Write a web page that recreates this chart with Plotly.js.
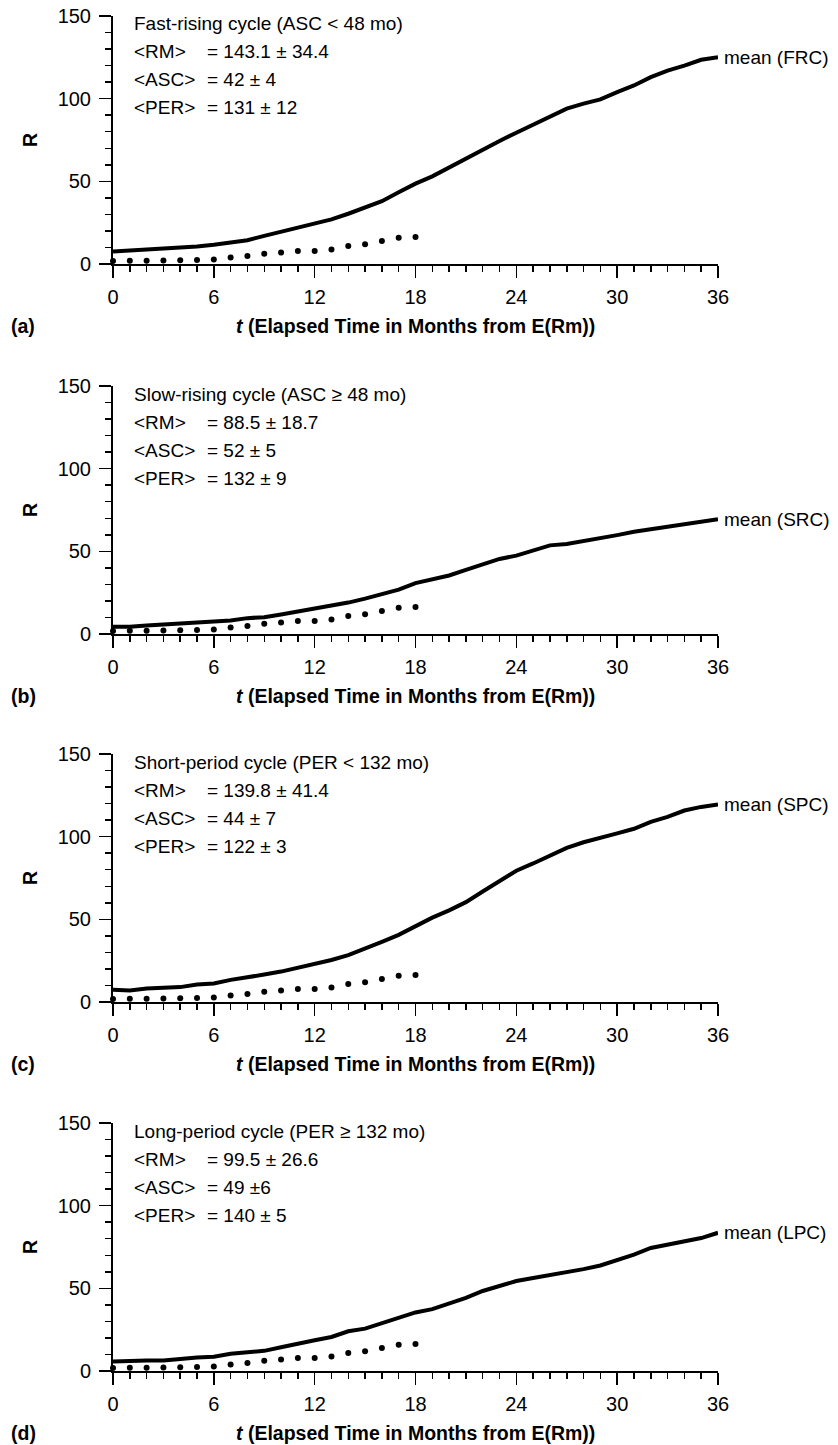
<!DOCTYPE html>
<html>
<head>
<meta charset="utf-8">
<script src="https://cdn.plot.ly/plotly-3.0.1.min.js"></script>
<style>
html, body { margin: 0; padding: 0; background: #fff; }
#chart { width: 838px; height: 1445px; }
</style>
</head>
<body>
<div id="chart"></div>
<script>
// ---- data ----
const months = [0,1,2,3,4,5,6,7,8,9,10,11,12,13,14,15,16,17,18,19,20,21,22,23,24,25,26,27,28,29,30,31,32,33,34,35,36];
const dotMonths = [0,1,2,3,4,5,6,7,8,9,10,11,12,13,14,15,16,17,18];
const dotR = [1.8,2.0,2.0,2.1,2.2,2.4,2.7,3.9,4.8,6.2,6.9,7.8,7.9,8.8,10.9,11.9,13.9,15.9,16.3];

const meanFRC = [7.6,8.2,8.8,9.0,9.8,10.6,11.6,12.8,14.4,17.0,19.6,22.2,24.4,27.0,30.4,34.4,38.0,43.4,48.6,53.0,58.4,64.0,69.0,74.4,79.4,84.4,89.0,94.0,97.0,99.6,104.0,108.0,113.0,117.0,120.0,123.5,125.0];
const meanSRC = [4.4,4.4,5.2,5.8,6.0,6.4,7.6,8.2,9.6,10.2,11.8,13.6,15.2,17.0,19.0,21.4,24.0,26.8,30.8,33.0,35.4,38.8,42.0,45.4,47.4,50.4,53.6,54.4,56.0,58.2,59.8,61.8,63.4,64.8,66.4,67.8,69.4];
const meanSPC = [7.4,7.0,8.2,8.8,9.0,10.6,11.2,13.4,14.8,16.6,18.4,20.6,22.6,25.4,28.4,32.2,36.4,40.6,45.8,51.0,55.4,60.4,66.8,73.0,79.4,83.8,88.8,93.2,96.6,99.0,102.0,104.8,109.0,112.0,115.8,118.0,119.4];
const meanLPC = [5.8,6.4,6.4,6.4,7.4,8.2,8.6,10.4,11.4,12.2,14.4,16.2,18.6,20.6,24.0,25.6,28.8,32.0,35.4,37.4,40.6,44.2,48.4,51.6,54.4,56.2,57.8,59.6,61.6,63.8,67.0,70.4,74.4,76.2,78.2,80.4,83.6];

const seriesList = [meanFRC, meanSRC, meanSPC, meanLPC];
const seriesNames = ['mean (FRC)', 'mean (SRC)', 'mean (SPC)', 'mean (LPC)'];
const panelLabels = ['(a)', '(b)', '(c)', '(d)'];
const panelTitles = ['Fast-rising cycle (ASC &lt; 48 mo)', 'Slow-rising cycle (ASC ≥ 48 mo)', 'Short-period cycle (PER &lt; 132 mo)', 'Long-period cycle (PER ≥ 132 mo)'];
const statNames = ['&lt;RM&gt;', '&lt;ASC&gt;', '&lt;PER&gt;'];
const statValues = [
  ['= 143.1 ± 34.4', '= 42 ± 4', '= 131 ± 12'],
  ['= 88.5 ± 18.7', '= 52 ± 5', '= 132 ± 9'],
  ['= 139.8 ± 41.4', '= 44 ± 7', '= 122 ± 3'],
  ['= 99.5 ± 26.6', '= 49 ±6', '= 140 ± 5']
];
const xTitle = '<b><i>t</i> (Elapsed Time in Months from E(Rm))</b>';
const yTitle = '<b>R</b>';

// ---- layout geometry (pixels) ----
const W = 838, H = 1445;
const plotLeft = 113, plotRight = 718;
const panelBottoms = [264, 634, 1002, 1371];
const panelHeight = 248;
const FONT = 'Liberation Sans, Arial, sans-serif';

const traces = [];
const layout = {
  width: W, height: H,
  margin: {l: 0, r: 0, t: 0, b: 0},
  paper_bgcolor: '#fff', plot_bgcolor: '#fff',
  showlegend: false,
  font: {family: FONT, color: '#000', size: 19},
  annotations: []
};

for (let i = 0; i < 4; i++) {
  const n = i + 1;
  const xa = 'x' + (n === 1 ? '' : n);
  const ya = 'y' + (n === 1 ? '' : n);
  const bottom = panelBottoms[i];
  const top = bottom - panelHeight;

  traces.push({
    x: dotMonths, y: dotR, xaxis: xa, yaxis: ya,
    type: 'scatter', mode: 'markers',
    marker: {color: '#000', size: 6},
    cliponaxis: false, hoverinfo: 'skip'
  });
  traces.push({
    x: months, y: seriesList[i], xaxis: xa, yaxis: ya,
    type: 'scatter', mode: 'lines',
    line: {color: '#000', width: 4},
    cliponaxis: false, name: seriesNames[i]
  });

  layout['xaxis' + (n === 1 ? '' : n)] = {
    domain: [plotLeft / W, plotRight / W],
    anchor: ya,
    range: [0, 36], tick0: 0, dtick: 6,
    ticks: 'outside', ticklen: 12, tickwidth: 1.5, tickcolor: '#000',
    showline: true, linewidth: 2, linecolor: '#000',
    showgrid: false, zeroline: false,
    minor: {dtick: 1, tick0: 0, ticks: 'outside', ticklen: 6, tickwidth: 1.5, tickcolor: '#000', showgrid: false},
    tickfont: {family: FONT, size: 20, color: '#000'},
    ticklabelstandoff: 2,
    fixedrange: true
  };
  layout['yaxis' + (n === 1 ? '' : n)] = {
    domain: [1 - bottom / H, 1 - top / H],
    anchor: xa,
    range: [0, 150], tick0: 0, dtick: 50,
    ticks: 'outside', ticklen: 12, tickwidth: 1.5, tickcolor: '#000',
    showline: true, linewidth: 2, linecolor: '#000',
    showgrid: false, zeroline: false,
    minor: {dtick: 10, tick0: 0, ticks: 'outside', ticklen: 6, tickwidth: 1.5, tickcolor: '#000', showgrid: false},
    tickfont: {family: FONT, size: 20, color: '#000'},
    ticklabelstandoff: 4,
    fixedrange: true
  };

  const xd = 'x' + (n === 1 ? '' : n) + ' domain';
  const yd = 'y' + (n === 1 ? '' : n) + ' domain';
  const A = layout.annotations;

  // series end label
  A.push({xref: xa, yref: ya, x: 36, y: seriesList[i][36], text: seriesNames[i],
    showarrow: false, xanchor: 'left', yanchor: 'middle', xshift: 4,
    font: {family: FONT, size: 19, color: '#000'}});

  // stats text block
  const offs = [8, 36, 64, 92];
  A.push({xref: xd, yref: yd, x: (132 - plotLeft) / (plotRight - plotLeft), y: 1 - offs[0] / panelHeight,
    text: panelTitles[i], showarrow: false, xanchor: 'left', yanchor: 'middle',
    font: {family: FONT, size: 19, color: '#000'}});
  for (let k = 0; k < 3; k++) {
    A.push({xref: xd, yref: yd, x: (132 - plotLeft) / (plotRight - plotLeft), y: 1 - offs[k + 1] / panelHeight,
      text: statNames[k], showarrow: false, xanchor: 'left', yanchor: 'middle',
      font: {family: FONT, size: 19, color: '#000'}});
    A.push({xref: xd, yref: yd, x: (205 - plotLeft) / (plotRight - plotLeft), y: 1 - offs[k + 1] / panelHeight,
      text: statValues[i][k], showarrow: false, xanchor: 'left', yanchor: 'middle',
      font: {family: FONT, size: 19, color: '#000'}});
  }

  // x-axis title
  A.push({xref: 'paper', yref: 'paper', x: (plotLeft + plotRight) / 2 / W, y: 1 - (bottom + 62) / H,
    text: xTitle, showarrow: false, xanchor: 'center', yanchor: 'middle',
    font: {family: FONT, size: 19.5, color: '#000'}});
  // y-axis title
  A.push({xref: 'paper', yref: 'paper', x: 30 / W, y: 1 - (bottom - panelHeight / 2) / H,
    text: yTitle, showarrow: false, xanchor: 'center', yanchor: 'middle', textangle: -90,
    font: {family: FONT, size: 19.5, color: '#000'}});
  // panel label
  A.push({xref: 'paper', yref: 'paper', x: 23 / W, y: 1 - (bottom + 62) / H,
    text: '<b>' + panelLabels[i] + '</b>', showarrow: false, xanchor: 'center', yanchor: 'middle',
    font: {family: FONT, size: 19.5, color: '#000'}});
}

Plotly.newPlot('chart', traces, layout, {displayModeBar: false, staticPlot: true});
</script>
</body>
</html>
